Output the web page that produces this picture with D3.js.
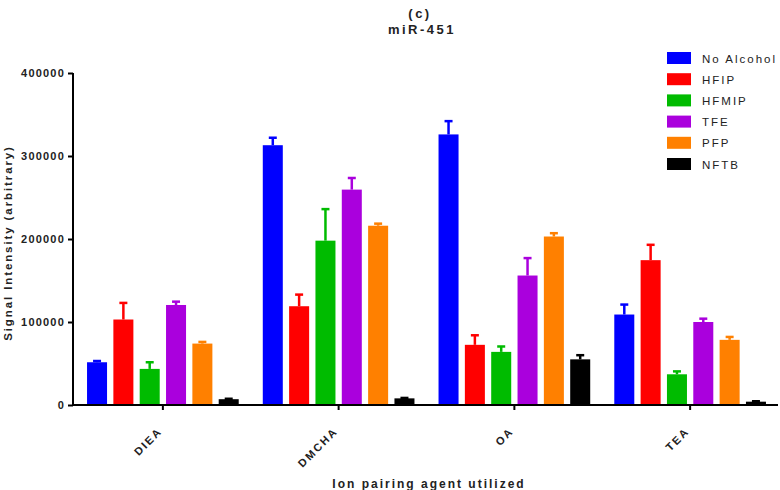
<!DOCTYPE html>
<html>
<head>
<meta charset="utf-8">
<script src="https://cdn.jsdelivr.net/npm/d3@7"></script>
<style>
  body { margin: 0; background: #fff; }
  svg { font-family: "Liberation Sans", Arial, sans-serif; }
</style>
</head>
<body>
<svg id="chart" width="780" height="490"></svg>
<script>
// data
var agents = ["DIEA", "DMCHA", "OA", "TEA"];
var alcohols = ["No Alcohol", "HFIP", "HFMIP", "TFE", "PFP", "NFTB"];
var colors = ["#0000ff", "#ff0000", "#00bb00", "#aa00dd", "#ff8000", "#000000"];

// mean signal per agent, one row per alcohol
var means = [
  [51500, 313000, 326000, 109000],
  [103000, 119000, 72500, 174500],
  [43500, 198000, 64000, 37000],
  [120500, 259500, 156000, 100000],
  [74000, 216000, 203000, 78500],
  [7000, 8000, 55000, 4000]
];
// upper error (sd)
var errors = [
  [1500, 9000, 16000, 12000],
  [20000, 14000, 11500, 18500],
  [8000, 38000, 6500, 3500],
  [4000, 14000, 21000, 4000],
  [2000, 2500, 4000, 3500],
  [500, 500, 5000, 500]
];
var yTicks = [0, 100000, 200000, 300000, 400000];

var svg = d3.select("#chart");

var x0 = d3.scaleBand().domain(agents).range([75, 778]);
var x1 = d3.scaleBand().domain(alcohols).range([-79, 79])
  .paddingInner(0.24).paddingOuter(0.12);
var y = d3.scaleLinear().domain([0, 400000]).range([405, 73]);

var rows = [];
agents.forEach(function(a, i){
  alcohols.forEach(function(s, j){
    rows.push({agent: a, alc: s, v: means[j][i], e: errors[j][i], c: colors[j]});
  });
});

var groups = svg.selectAll("g.bar").data(rows).enter().append("g").attr("class", "bar")
  .attr("transform", function(d){
    return "translate(" + (x0(d.agent) + x0.bandwidth() / 2 + x1(d.alc)) + ",0)";
  });

// error bars first, under the bar
groups.append("line")
  .attr("x1", x1.bandwidth() / 2).attr("x2", x1.bandwidth() / 2)
  .attr("y1", function(d){ return y(d.v); })
  .attr("y2", function(d){ return y(d.v + d.e); })
  .attr("stroke", function(d){ return d.c; })
  .attr("stroke-width", 2.5);
groups.append("line")
  .attr("x1", x1.bandwidth() / 2 - 4).attr("x2", x1.bandwidth() / 2 + 4)
  .attr("y1", function(d){ return y(d.v + d.e); })
  .attr("y2", function(d){ return y(d.v + d.e); })
  .attr("stroke", function(d){ return d.c; })
  .attr("stroke-width", 2.5);

groups.append("rect")
  .attr("x", 0)
  .attr("y", function(d){ return y(d.v); })
  .attr("width", x1.bandwidth())
  .attr("height", function(d){ return y(0) - y(d.v); })
  .attr("fill", function(d){ return d.c; });

// axes
var yAxis = svg.append("g").attr("transform", "translate(73,0)")
  .call(d3.axisLeft(y).tickValues(yTicks).tickFormat(d3.format("d")).tickSizeOuter(0).tickSize(5));
yAxis.select(".domain").attr("stroke-width", 2).attr("d", "M0," + y(0) + "V" + y(400000));
yAxis.selectAll(".tick line").attr("stroke-width", 2);
yAxis.selectAll(".tick text")
  .attr("font-size", 11).attr("font-weight", "bold").attr("letter-spacing", 1.2)
  .attr("x", -8).attr("fill", "#222").attr("font-family", "Liberation Sans, Arial, sans-serif");

var xAxis = svg.append("g").attr("transform", "translate(0," + y(0) + ")")
  .call(d3.axisBottom(x0).tickSize(5).tickSizeOuter(0));
xAxis.select(".domain").attr("stroke-width", 2).attr("d", "M73,0H778");
xAxis.selectAll(".tick line").attr("stroke-width", 2);
xAxis.selectAll(".tick text")
  .attr("font-size", 11).attr("font-weight", "bold").attr("letter-spacing", 2)
  .attr("fill", "#222").attr("font-family", "Liberation Sans, Arial, sans-serif")
  .attr("text-anchor", "end")
  .attr("dy", 0).attr("y", 0)
  .attr("transform", "translate(0,27) rotate(-45)");

// titles
svg.append("text").attr("x", 420).attr("y", 18).attr("text-anchor", "middle")
  .attr("font-size", 13).attr("font-weight", "bold").attr("letter-spacing", 2.5).attr("fill", "#222")
  .text("(c)");
svg.append("text").attr("x", 422).attr("y", 34).attr("text-anchor", "middle")
  .attr("font-size", 13).attr("font-weight", "bold").attr("letter-spacing", 2.5).attr("fill", "#222")
  .text("miR-451");

svg.append("text").attr("transform", "translate(12,243) rotate(-90)")
  .attr("text-anchor", "middle").attr("font-size", 11.5).attr("font-weight", "bold")
  .attr("letter-spacing", 1.9).attr("fill", "#222")
  .text("Signal Intensity (arbitrary)");

svg.append("text").attr("x", 429).attr("y", 488).attr("text-anchor", "middle")
  .attr("font-size", 12).attr("font-weight", "bold").attr("letter-spacing", 2).attr("fill", "#222")
  .text("Ion pairing agent utilized");

// legend
var legend = svg.selectAll("g.leg").data(alcohols).enter().append("g").attr("class", "leg")
  .attr("transform", function(d, i){ return "translate(667," + (52 + i * 21.2) + ")"; });
legend.append("rect").attr("width", 24).attr("height", 12)
  .attr("fill", function(d, i){ return colors[i]; });
legend.append("text").attr("x", 35).attr("y", 10.5)
  .attr("font-size", 11.5).attr("letter-spacing", 2).attr("fill", "#222")
  .text(function(d){ return d; });
</script>
</body>
</html>
